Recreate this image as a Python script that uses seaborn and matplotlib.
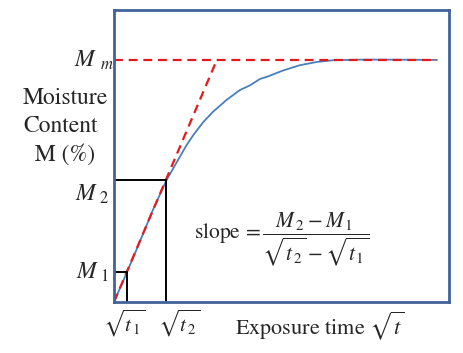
import matplotlib
matplotlib.use("Agg")
import matplotlib.pyplot as plt
import seaborn as sns
import pandas as pd

# curve (x = sqrt(t), y = moisture), arbitrary units
curve_x = [0.0, 0.39, 0.78, 1.16, 1.57, 1.77, 1.97, 2.17, 2.37, 2.67, 2.96, 3.36, 3.76, 4.06,
           4.36, 4.56, 5.05, 5.55, 6.05, 6.54, 7.34, 8.3, 9.64]
curve_y = [0.0, 1.03, 2.09, 3.15, 4.18, 4.58, 4.98, 5.38, 5.72, 6.17, 6.52, 6.92, 7.26, 7.42,
           7.64, 7.71, 7.93, 8.11, 8.22, 8.28, 8.30, 8.30, 8.29]

# key points
x1, x2 = 0.39, 1.55
m1, m2, mm = 1.03, 4.18, 8.29
tangent_end = 3.07
plateau_end = 9.64

sns.set_style("white")
plt.rcParams["font.family"] = ["STIXGeneral", "DejaVu Serif"]
plt.rcParams["mathtext.fontset"] = "stix"

fig = plt.figure(figsize=(4.64, 3.53), dpi=100)
ax = fig.add_axes([114 / 464, 51 / 353, 335 / 464, 292 / 353])

df = pd.DataFrame({"x": curve_x, "y": curve_y})
sns.lineplot(data=df, x="x", y="y", ax=ax, color="#4A7EBB", linewidth=1.3, sort=False, estimator=None)

red = "#E31A1C"
ax.plot([0, tangent_end], [0, mm], color=red, linestyle=(0, (4, 2.6)), linewidth=1.6)
ax.plot([0, plateau_end], [mm, mm], color=red, linestyle=(0, (4, 2.6)), linewidth=1.6)

# black guide rectangles
ax.plot([0, x1, x1], [m1, m1, 0], color="black", linewidth=1.4)
ax.plot([0, x2, x2], [m2, m2, 0], color="black", linewidth=1.4)

ax.set_xlim(0, 10)
ax.set_ylim(0, 10)
ax.set_xticks([])
ax.set_yticks([])
ax.set_xlabel("")
ax.set_ylabel("")
for s in ax.spines.values():
    s.set_color("#41639A")
    s.set_linewidth(2)

# y labels
ytr = ax.get_yaxis_transform()
ax.text(0.0, mm, r"$M_{\ \,m}$", transform=ytr, ha="right", va="center", fontsize=17)
ax.text(-0.015, m2 - 0.5, r"$M_{\ 2}$", transform=ytr, ha="right", va="center", fontsize=17)
ax.text(-0.015, m1, r"$M_{\ 1}$", transform=ytr, ha="right", va="center", fontsize=17)
ax.text(-0.272, 6.0, "Moisture\nContent\n  M (%)", transform=ytr, ha="left", va="center",
        fontsize=17, linespacing=1.4)

# x labels
xtr = ax.get_xaxis_transform()
ax.text(x1 - 0.72, -0.075, r"$\sqrt{t_{\,1}}$", transform=xtr, ha="left", va="center", fontsize=15)
ax.text(x2 - 0.25, -0.075, r"$\sqrt{t_{\,2}}$", transform=xtr, ha="left", va="center", fontsize=15)
ax.text(3.6, -0.08, r"Exposure time $\sqrt{t}$", transform=xtr, ha="left", va="center",
        fontsize=16)

# slope formula
ax.text(2.4, 2.15, r"slope$\,=\dfrac{M_{\,2}-M_{\,1}}{\sqrt{t_{\,2}}-\sqrt{t_{\,1}}}$", ha="left", va="center",
        fontsize=15.5)

fig.savefig("out.png", dpi=100)
